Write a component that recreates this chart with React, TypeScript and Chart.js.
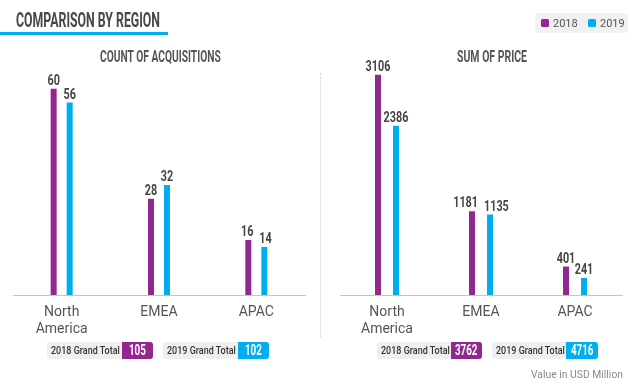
import React, { useEffect, useRef } from "react";
import { Chart, registerables } from "chart.js";

Chart.register(...registerables);

const regions: (string | string[])[] = [["North", "America"], "EMEA", "APAC"];
const years = ["2018", "2019"];
const acquisitions2018 = [60, 28, 16];
const acquisitions2019 = [56, 32, 14];
const price2018 = [3106, 1181, 401];
const price2019 = [2386, 1135, 241];
const countTotals = [105, 102];
const priceTotals = [3762, 4716];

const PURPLE = "#92278F";
const BLUE = "#00AEEF";
const COLORS = [PURPLE, BLUE];
const BOLD = "Roboto, 'DejaVu Sans', sans-serif";
const PLAIN = "Roboto, 'Liberation Sans', sans-serif";

let measureCtx: CanvasRenderingContext2D | null = null;
function textWidth(font: string, text: string): number {
  if (!measureCtx) measureCtx = document.createElement("canvas").getContext("2d");
  if (!measureCtx) return 1;
  measureCtx.font = font;
  return measureCtx.measureText(text).width || 1;
}

function Squeeze(props: { text: string; font: string; width: number; color: string; style?: React.CSSProperties }) {
  const { text, font, width, color, style } = props;
  const natural = textWidth(font, text);
  const s = width / natural;
  return (
    <div
      style={{
        position: "absolute",
        whiteSpace: "nowrap",
        font,
        color,
        transform: `scaleX(${s})`,
        transformOrigin: "left top",
        ...style,
      }}
    >
      {text}
    </div>
  );
}

// value labels above bars, condensed, pushed apart when neighbours collide
const valueLabels = {
  id: "valueLabels",
  afterDatasetsDraw(chart: any) {
    const ctx = chart.ctx;
    const sx = 0.72;
    const font = "bold 15px " + BOLD;
    const capH = 11;
    const gap = 6;
    ctx.save();
    ctx.font = font;
    const n = chart.data.labels.length;
    for (let j = 0; j < n; j++) {
      const items = chart.data.datasets.map((ds: any, i: number) => {
        const bar = chart.getDatasetMeta(i).data[j];
        const text = String(ds.data[j]);
        const w = ctx.measureText(text).width * sx;
        return { text, x: bar.x, y: bar.y - 4, w };
      });
      for (let k = 0; k < items.length - 1; k++) {
        const a = items[k];
        const b = items[k + 1];
        const vOverlap = Math.abs(a.y - b.y) < capH;
        const need = a.w / 2 + b.w / 2 + gap - (b.x - a.x);
        if (vOverlap && need > 0) {
          a.x -= need / 2;
          b.x += need / 2;
        }
      }
      items.forEach((it: any) => {
        ctx.save();
        ctx.font = font;
        ctx.fillStyle = "#444";
        ctx.textAlign = "center";
        ctx.textBaseline = "alphabetic";
        ctx.translate(it.x, it.y);
        ctx.scale(sx, 1);
        ctx.fillText(it.text, 0, 0);
        ctx.restore();
      });
    }
    ctx.restore();
  },
};

function makeConfig(
  a: number[],
  b: number[],
  max: number,
  pad: { left: number; right: number; top: number; bottom: number },
  catPct: number,
  barPct: number
): any {
  return {
    type: "bar",
    data: {
      labels: regions,
      datasets: [
        { label: years[0], data: a, backgroundColor: PURPLE, categoryPercentage: catPct, barPercentage: barPct },
        { label: years[1], data: b, backgroundColor: BLUE, categoryPercentage: catPct, barPercentage: barPct },
      ],
    },
    options: {
      responsive: false,
      animation: false,
      devicePixelRatio: 1,
      layout: { padding: pad },
      plugins: {
        legend: { display: false },
        tooltip: { enabled: false },
        title: { display: false },
      },
      scales: {
        x: {
          grid: { display: false, drawTicks: false },
          border: { display: true, color: "#c4c4c4", width: 1 },
          ticks: {
            color: "#555",
            padding: 9,
            maxRotation: 0,
            autoSkip: false,
            font: { family: PLAIN, size: 14, lineHeight: 1.2 },
          },
          afterFit: (scale: any) => {
            scale.height = 40;
          },
        },
        y: { display: false, min: 0, max },
      },
    },
    plugins: [valueLabels],
  };
}

function TotalBox(props: { left: number; year: string; value: number; color: string; grayW: number; colW: number }) {
  const { left, year, value, color, grayW, colW } = props;
  const numFont = "bold 14px " + BOLD;
  const numW = textWidth(numFont, String(value)) * 0.7;
  return (
    <div
      style={{
        position: "absolute",
        left,
        top: 342,
        height: 17,
        width: grayW + colW,
        borderRadius: 3,
        overflow: "hidden",
        background: "#efefef",
      }}
    >
      <Squeeze
        text={`${year} Grand Total`}
        font={"500 11px " + PLAIN}
        width={69}
        color="#333"
        style={{ left: 4, top: 0, lineHeight: "17px" }}
      />
      <div style={{ position: "absolute", left: grayW, top: 0, width: colW, height: 17, background: color }} />
      <Squeeze
        text={String(value)}
        font={numFont}
        width={numW}
        color="#fff"
        style={{ left: grayW + (colW - numW) / 2, top: 0, lineHeight: "17px" }}
      />
    </div>
  );
}

export default function App() {
  const leftRef = useRef<HTMLCanvasElement>(null);
  const rightRef = useRef<HTMLCanvasElement>(null);

  useEffect(() => {
    const c1 = new Chart(
      leftRef.current as HTMLCanvasElement,
      makeConfig(acquisitions2018, acquisitions2019, 64, { left: 13, right: 15, top: 75, bottom: 49 }, 0.329, 0.375)
    );
    const c2 = new Chart(
      rightRef.current as HTMLCanvasElement,
      makeConfig(price2018, price2019, 3300, { left: 20, right: 18, top: 61, bottom: 49 }, 0.383, 0.333)
    );
    return () => {
      c1.destroy();
      c2.destroy();
    };
  }, []);

  const subFont = "bold 17px " + BOLD;

  return (
    <div
      style={{
        position: "fixed",
        left: 0,
        top: 0,
        width: 640,
        height: 384,
        background: "#fff",
        overflow: "hidden",
      }}
    >
      <canvas ref={leftRef} width={320} height={384} style={{ position: "absolute", left: 0, top: 0 }} />
      <canvas ref={rightRef} width={320} height={384} style={{ position: "absolute", left: 320, top: 0 }} />

      <Squeeze
        text="COMPARISON BY REGION"
        font={"bold 20px " + BOLD}
        width={144}
        color="#474747"
        style={{ left: 16, top: 9, lineHeight: "22px" }}
      />
      <div style={{ position: "absolute", left: 0, top: 32, width: 168, height: 3, background: BLUE }} />

      <Squeeze
        text="COUNT OF ACQUISITIONS"
        font={subFont}
        width={121}
        color="#555"
        style={{ left: 100, top: 46, lineHeight: "20px" }}
      />
      <Squeeze
        text="SUM OF PRICE"
        font={subFont}
        width={70}
        color="#555"
        style={{ left: 457, top: 46, lineHeight: "20px" }}
      />

      <div
        style={{
          position: "absolute",
          left: 535,
          top: 13,
          width: 93,
          height: 20,
          background: "#f1f1f1",
          borderRadius: 3,
        }}
      >
        {years.map((y, i) => (
          <div key={y} style={{ position: "absolute", left: 6 + i * 47, top: 0, height: 20, display: "flex", alignItems: "center" }}>
            <div style={{ width: 8, height: 8, background: COLORS[i], borderRadius: 1.5, marginRight: 4 }} />
            <span style={{ font: "11px " + PLAIN, color: "#555" }}>{y}</span>
          </div>
        ))}
      </div>

      <div
        style={{
          position: "absolute",
          left: 320,
          top: 73,
          height: 264,
          width: 0,
          borderLeft: "1px dotted #cfcfcf",
        }}
      />

      <TotalBox left={47} year={years[0]} value={countTotals[0]} color={PURPLE} grayW={75} colW={31} />
      <TotalBox left={163} year={years[1]} value={countTotals[1]} color={BLUE} grayW={75} colW={31} />
      <TotalBox left={377} year={years[0]} value={priceTotals[0]} color={PURPLE} grayW={74} colW={31} />
      <TotalBox left={492} year={years[1]} value={priceTotals[1]} color={BLUE} grayW={74} colW={32} />

      <Squeeze
        text="Value in USD Million"
        font={"11px " + PLAIN}
        width={92}
        color="#8a8a8a"
        style={{ left: 531, top: 368, lineHeight: "14px" }}
      />
    </div>
  );
}
